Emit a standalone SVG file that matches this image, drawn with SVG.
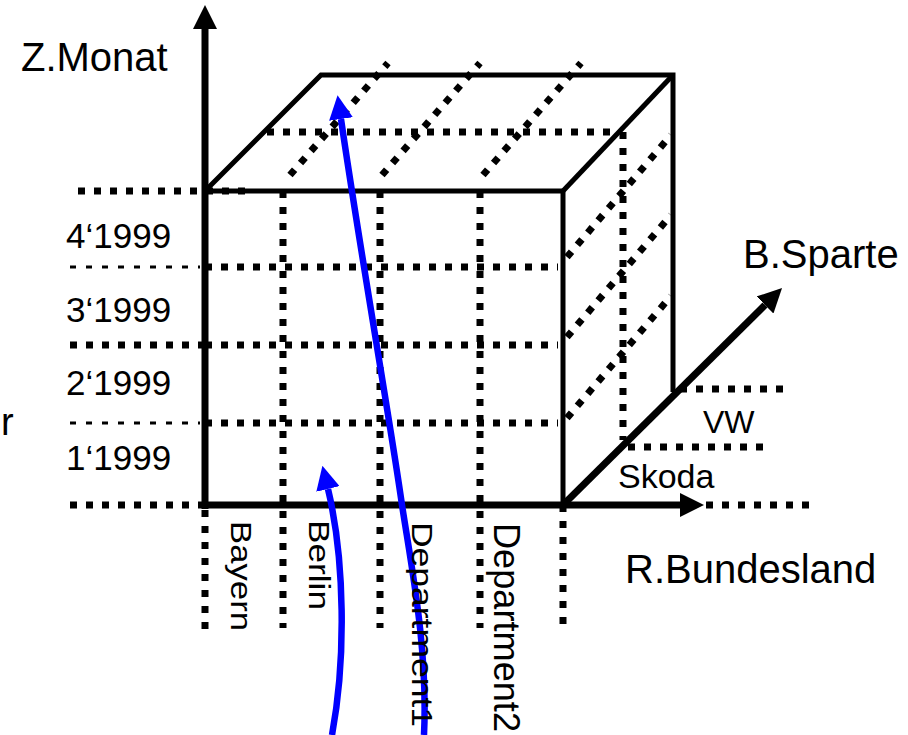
<svg xmlns="http://www.w3.org/2000/svg" width="908" height="735" viewBox="0 0 908 735">
  <style>
    .dot { stroke: #000; stroke-width: 7; stroke-dasharray: 7 9; fill: none; }
    .thin { stroke: #000; stroke-width: 3; stroke-dasharray: 6 10; fill: none; }
    .edge { stroke: #000; stroke-width: 5; fill: none; stroke-linejoin: miter; }
    .axis { stroke: #000; stroke-width: 7; fill: none; }
    .flow { stroke: #0000ff; stroke-width: 6.5; fill: none; }
    text { font-family: "Liberation Sans", Arial, sans-serif; fill: #000; }
  </style>
  <defs>
    <marker id="ah" markerUnits="userSpaceOnUse" viewBox="0 0 24 24" refX="0" refY="12" markerWidth="24" markerHeight="24" orient="auto">
      <path d="M0,0 L24,12 L0,24 z" fill="#000"/>
    </marker>
    <marker id="ahBlue" markerUnits="userSpaceOnUse" viewBox="0 0 24 24" refX="0" refY="12" markerWidth="24" markerHeight="24" orient="auto">
      <path d="M0,0 L24,12 L0,24 z" fill="#0000ff"/>
    </marker>
  </defs>

  <!-- grid of the cube: dotted division lines -->
  <g id="grid">
    <!-- left extensions of the month lines -->
    <line class="dot" x1="78" y1="191" x2="245" y2="191"/>
    <line class="thin" x1="70" y1="267" x2="200" y2="267"/>
    <line class="dot" x1="70" y1="345" x2="205" y2="345"/>
    <line class="thin" x1="70" y1="423" x2="200" y2="423"/>
    <line class="dot" x1="70" y1="505" x2="205" y2="505"/>
    <!-- front face horizontals -->
    <line class="dot" x1="205" y1="267" x2="558" y2="267"/>
    <line class="dot" x1="205" y1="345" x2="558" y2="345"/>
    <line class="dot" x1="205" y1="423" x2="558" y2="423"/>
    <!-- front face verticals, running down past the base axis -->
    <line class="dot" x1="283" y1="191" x2="283" y2="628"/>
    <line class="dot" x1="380" y1="191" x2="380" y2="628"/>
    <line class="dot" x1="480" y1="191" x2="480" y2="628"/>
    <line class="dot" x1="205" y1="510" x2="205" y2="634"/>
    <line class="dot" x1="563" y1="505" x2="563" y2="627"/>
    <!-- top face -->
    <line class="dot" x1="267" y1="132" x2="616" y2="132"/>
    <line class="dot" x1="290" y1="175" x2="388" y2="63"/>
    <line class="dot" x1="382" y1="175" x2="480" y2="63"/>
    <line class="dot" x1="483" y1="175" x2="581" y2="63"/>
    <!-- right face -->
    <line class="dot" x1="623" y1="132" x2="623" y2="440"/>
    <line class="dot" x1="567" y1="257" x2="671" y2="135"/>
    <line class="dot" x1="567" y1="337" x2="671" y2="215"/>
    <line class="dot" x1="567" y1="418" x2="671" y2="296"/>
    <!-- product division lines along the depth axis -->
    <line class="dot" x1="680" y1="389" x2="788" y2="389"/>
    <line class="dot" x1="628" y1="447" x2="768" y2="447"/>
    <line class="dot" x1="706" y1="505" x2="816" y2="505"/>
  </g>

  <!-- cube outline -->
  <g id="cube">
    <path class="edge" d="M205,191 L563,191 L563,505"/>
    <path class="edge" d="M205,191 L321,75 L673,75 L673,392"/>
    <line class="edge" x1="563" y1="191" x2="673" y2="75"/>
  </g>

  <!-- axes -->
  <g id="axes">
    <line class="axis" x1="205" y1="509" x2="205" y2="29" stroke-width="8" marker-end="url(#ah)"/>
    <line class="axis" x1="202" y1="505" x2="680" y2="505" marker-end="url(#ah)"/>
    <line class="axis" x1="563" y1="505" x2="765" y2="305" marker-end="url(#ah)"/>
  </g>

  <!-- connectors -->
  <g id="connectors">
    <path class="flow" d="M424,735 C428,650 412,570 402,505 C390,420 360,250 341,119" marker-end="url(#ahBlue)"/>
    <path class="flow" d="M332,735 C346,660 345,560 328,489" marker-end="url(#ahBlue)"/>
  </g>

  <!-- axis titles -->
  <g id="titles">
    <text x="21" y="71" font-size="40">Z.Monat</text>
    <text x="743" y="268" font-size="40">B.Sparte</text>
    <text x="625" y="583" font-size="40">R.Bundesland</text>
  </g>

  <!-- month labels -->
  <g id="months">
    <text x="1" y="435" font-size="38">r</text>
    <text x="66" y="248" font-size="35">4‘1999</text>
    <text x="66" y="322" font-size="35">3‘1999</text>
    <text x="66" y="395" font-size="35">2‘1999</text>
    <text x="66" y="470" font-size="35">1‘1999</text>
  </g>

  <!-- product labels -->
  <g id="products">
    <text x="703" y="433" font-size="32">VW</text>
    <text x="618" y="488" font-size="34">Skoda</text>
  </g>

  <!-- region labels, written downwards -->
  <g id="regions">
    <text transform="translate(231,521) rotate(90)" font-size="29" textLength="110" lengthAdjust="spacingAndGlyphs">Bayern</text>
    <text transform="translate(309,520) rotate(90)" font-size="29" textLength="90" lengthAdjust="spacingAndGlyphs">Berlin</text>
    <text transform="translate(412,522) rotate(90)" font-size="29" textLength="205" lengthAdjust="spacingAndGlyphs">Department1</text>
    <text transform="translate(494,523) rotate(90)" font-size="36" textLength="209" lengthAdjust="spacingAndGlyphs">Department2</text>
  </g>
</svg>
